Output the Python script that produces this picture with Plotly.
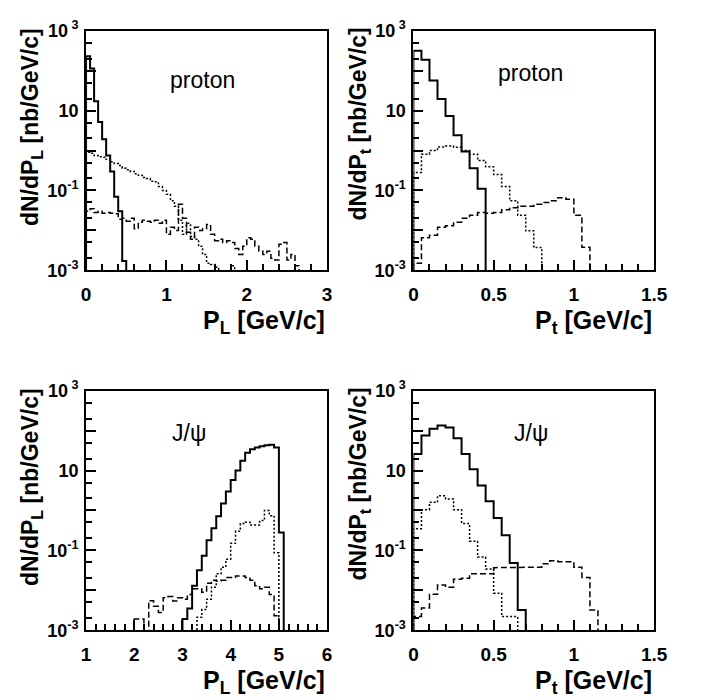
import numpy as np
import plotly.graph_objects as go

# ---------------- data (bin start, bin width, contents) ----------------
# top-left: proton, dN/dP_L
tl_start, tl_width = 0.0, 0.05
tl_solid = [230, 113, 17, 5.2, 1.9, 0.75, 0.3, 0.07, 0.03, 0.0017]
tl_dotted = [0.90, 0.85, 0.75, 0.70, 0.68, 0.60, 0.52, 0.47, 0.42, 0.36,
             0.33, 0.30, 0.26, 0.24, 0.21, 0.20, 0.17, 0.165, 0.125, 0.10,
             0.08, 0.055, 0.040, 0.018, 0.008, 0.015, 0.007, 0.006, 0.004, 0.0025,
             0.0015, 0.0014, 0.0012, 0.0008, 0.0008, 0.0008, 0.0013, 0.0008]
tl_dashed = [0.030, 0.035, 0.028, 0.030, 0.027, 0.028, 0.027, 0.026, 0.019, 0.020,
             0.017, 0.020, 0.011, 0.016, 0.018, 0.017, 0.016, 0.018, 0.015, 0.018,
             0.008, 0.012, 0.010, 0.045, 0.020, 0.009, 0.006, 0.012, 0.010, 0.011,
             0.014, 0.008, 0.0055, 0.0060, 0.0050, 0.0055, 0.0050, 0.0035, 0.0025, 0.0040,
             0.0065, 0.0060, 0.0040, 0.0030, 0.0025, 0.0030, 0.0020, 0.0018, 0.0045, 0.0050,
             0.0018, 0.0025, 0.0013]

# top-right: proton, dN/dP_t
tr_start, tr_width = 0.0, 0.05
tr_solid = [316, 187, 57, 19.6, 7.3, 2.4, 0.95, 0.36, 0.11]
tr_dotted = [0.28, 0.81, 1.0, 1.23, 1.3, 1.2, 1.0, 0.8, 0.56, 0.39, 0.25, 0.126,
             0.055, 0.024, 0.0098, 0.0037]
tr_dashed = [0.0015, 0.0065, 0.0075, 0.012, 0.013, 0.016, 0.02, 0.024, 0.028, 0.027,
             0.028, 0.033, 0.037, 0.04, 0.04, 0.045, 0.05, 0.055, 0.066, 0.06,
             0.024, 0.0038]

# bottom-left: J/psi, dN/dP_L
bl_width = 0.1
bl_solid_start = 3.0
bl_solid = [0.0019, 0.0035, 0.013, 0.032, 0.073, 0.18, 0.36, 0.72, 1.5, 3.0,
            5.8, 10, 17.7, 28, 34, 38, 40.5, 43, 44, 38, 0.28]
bl_dotted_start = 3.3
bl_dotted = [0.0021, 0.0033, 0.006, 0.012, 0.026, 0.038, 0.06, 0.15, 0.3, 0.47,
             0.51, 0.43, 0.43, 0.56, 1.0, 0.74, 0.087]
bl_dashed_start = 2.0
bl_dashed = [0.0019, 0.0019, 0.0005, 0.0055, 0.004, 0.0028, 0.0065, 0.007, 0.0054, 0.0065,
             0.006, 0.0078, 0.011, 0.011, 0.009, 0.015, 0.018, 0.017, 0.018, 0.021,
             0.021, 0.023, 0.023, 0.021, 0.018, 0.013, 0.011, 0.012, 0.0078, 0.0023]

# bottom-right: J/psi, dN/dP_t
br_start, br_width = 0.0, 0.05
br_solid = [26, 76, 112, 135, 119, 64, 26, 10.8, 4.2, 1.7, 0.65, 0.24, 0.048, 0.0032]
br_dotted = [0.35, 1.05, 1.6, 2.35, 1.95, 1.05, 0.47, 0.17, 0.068, 0.034, 0.0085,
             0.0022, 0.0022]
br_dashed = [0.0022, 0.0036, 0.008, 0.0135, 0.012, 0.019, 0.02, 0.026, 0.026, 0.026,
             0.037, 0.037, 0.038, 0.038, 0.038, 0.038, 0.046, 0.055, 0.052, 0.052,
             0.038, 0.021, 0.0032]

y_tickvals = [1e-3, 1e-2, 1e-1, 1, 10, 100, 1000]
y_ticktext = ["10<sup>-3</sup>", "", "10<sup>-1</sup>", "", "10", "", "10<sup> 3</sup>"]
y_minor = [m * 10.0 ** e for e in range(-3, 3) for m in (2, 5)]

FLOOR = 1e-5


def step_xy(start, width, vals):
    edges = start + width * np.arange(len(vals) + 1)
    xs, ys = [edges[0]], [FLOOR]
    for i, v in enumerate(vals):
        xs += [edges[i], edges[i + 1]]
        ys += [v, v]
    xs.append(edges[-1])
    ys.append(FLOOR)
    return xs, ys


W, H = 708, 700
FONT = "Liberation Sans, Arial, Helvetica, sans-serif"

panels = [
    # xaxis id, yaxis id, x-domain px, y-domain px, x-range, major x ticks, minor dtick
    dict(ax="x", ay="y", xd=(83.3, 331), yd=(19.3, 266.7), xr=[0, 3],
         xt=[0, 1, 2, 3], xtt=["0", "1", "2", "3"], md=0.2,
         series=[(tl_start, tl_width, tl_solid, "solid"),
                 (tl_start, tl_width, tl_dotted, "dot"),
                 (tl_start, tl_width, tl_dashed, "dash")],
         label="proton", lab_xy=(203, 70), sub="L"),
    dict(ax="x2", ay="y2", xd=(419.7, 667), yd=(19.3, 266.7), xr=[0, 1.5],
         xt=[0, 0.5, 1, 1.5], xtt=["0", "0.5", "1", "1.5"], md=0.1,
         series=[(tr_start, tr_width, tr_solid, "solid"),
                 (tr_start, tr_width, tr_dotted, "dot"),
                 (tr_start, tr_width, tr_dashed, "dash")],
         label="proton", lab_xy=(540, 63), sub="t"),
    dict(ax="x3", ay="y3", xd=(83.3, 331), yd=(391, 638.3), xr=[1, 6],
         xt=[1, 2, 3, 4, 5, 6], xtt=["1", "2", "3", "4", "5", "6"], md=0.2,
         series=[(bl_solid_start, bl_width, bl_solid, "solid"),
                 (bl_dotted_start, bl_width, bl_dotted, "dot"),
                 (bl_dashed_start, bl_width, bl_dashed, "dash")],
         label="J/ψ", lab_xy=(189, 435), sub="L"),
    dict(ax="x4", ay="y4", xd=(419.7, 667), yd=(391, 638.3), xr=[0, 1.5],
         xt=[0, 0.5, 1, 1.5], xtt=["0", "0.5", "1", "1.5"], md=0.1,
         series=[(br_start, br_width, br_solid, "solid"),
                 (br_start, br_width, br_dotted, "dot"),
                 (br_start, br_width, br_dashed, "dash")],
         label="J/ψ", lab_xy=(540, 435), sub="t"),
]

dash_map = {"solid": ("solid", 2.0), "dot": ("2px,2px", 1.5), "dash": ("6px,3px", 1.5)}

fig = go.Figure()
annotations = []
layout = dict(width=W, height=H, margin=dict(l=0, r=0, t=0, b=0),
              paper_bgcolor="white", plot_bgcolor="white", showlegend=False,
              font=dict(family=FONT, color="black"))

for p in panels:
    for start, width, vals, style in p["series"]:
        xs, ys = step_xy(start, width, vals)
        d, lw = dash_map[style]
        fig.add_trace(go.Scatter(x=xs, y=ys, mode="lines", xaxis=p["ax"], yaxis=p["ay"],
                                 line=dict(color="black", width=lw, dash=d),
                                 hoverinfo="skip"))
    xkey = "xaxis" + p["ax"][1:]
    ykey = "yaxis" + p["ay"][1:]
    layout[xkey] = dict(
        domain=[p["xd"][0] / W, p["xd"][1] / W], anchor=p["ay"], range=p["xr"],
        showgrid=False, zeroline=False, showline=True, mirror=True,
        linecolor="black", linewidth=2, ticks="inside", ticklen=10, tickwidth=1.5,
        tickcolor="black", tickmode="array", tickvals=p["xt"], ticktext=p["xtt"],
        tickfont=dict(family=FONT, size=19, weight="bold"), ticklabelstandoff=6,
        minor=dict(dtick=p["md"], tick0=p["xr"][0], ticks="inside", ticklen=6,
                   tickwidth=1.5, tickcolor="black", showgrid=False),
    )
    layout[ykey] = dict(
        domain=[1 - p["yd"][1] / H, 1 - p["yd"][0] / H], anchor=p["ax"], type="log",
        range=[-3, 3], showgrid=False, zeroline=False, showline=True, mirror=True,
        linecolor="black", linewidth=2, ticks="inside", ticklen=10, tickwidth=1.5,
        tickcolor="black", tickmode="array", tickvals=y_tickvals, ticktext=y_ticktext,
        tickfont=dict(family=FONT, size=18, weight="bold"), ticklabelstandoff=2,
        minor=dict(tickmode="array", tickvals=y_minor, ticks="inside", ticklen=6,
                   tickwidth=1.5, tickcolor="black", showgrid=False),
    )
    # label inside panel
    annotations.append(dict(text=p["label"], x=p["lab_xy"][0] / W, y=1 - p["lab_xy"][1] / H,
                            xref="paper", yref="paper", showarrow=False,
                            xanchor="center", yanchor="middle",
                            font=dict(family=FONT, size=23, color="black")))
    # y title
    ytitle_x = 28 if p["xd"][0] < 200 else 364
    annotations.append(dict(text="dN/dP<sub>%s</sub> [nb/GeV/c]" % p["sub"],
                            textangle=-90, x=ytitle_x / W, y=1 - (p["yd"][0] - 5) / H,
                            xref="paper", yref="paper", showarrow=False,
                            xanchor="center", yanchor="top",
                            font=dict(family=FONT, size=23, color="black", weight="bold")))
    # x title
    annotations.append(dict(text="P<sub>%s</sub> [GeV/c]" % p["sub"],
                            x=p["xd"][1] / W, y=1 - (p["yd"][1] + 35) / H,
                            xref="paper", yref="paper", showarrow=False,
                            xanchor="right", yanchor="top",
                            font=dict(family=FONT, size=25, color="black", weight="bold")))

layout["annotations"] = annotations
fig.update_layout(**layout)
fig.write_html("out.html")
